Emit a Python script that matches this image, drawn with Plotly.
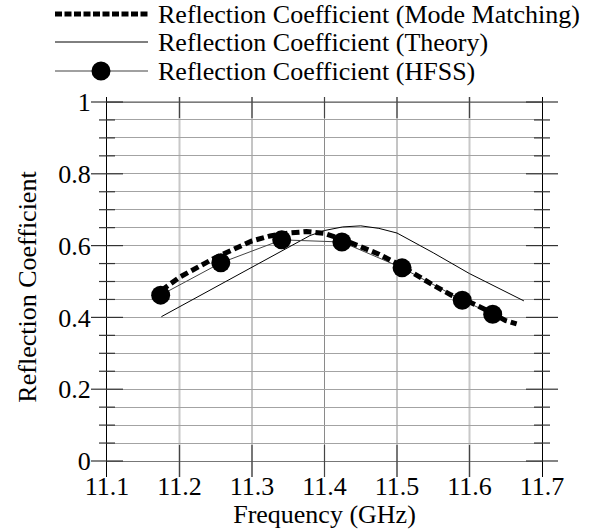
import plotly.graph_objects as go

# ---------------- data ----------------
freq_mm = [11.175, 11.2, 11.25, 11.3, 11.325, 11.35, 11.375, 11.4, 11.425, 11.45,
           11.475, 11.5, 11.525, 11.55, 11.575, 11.6, 11.625, 11.65, 11.665]
refl_mm = [0.475, 0.512, 0.567, 0.613, 0.627, 0.635, 0.639, 0.634, 0.617, 0.597,
           0.576, 0.550, 0.518, 0.490, 0.462, 0.443, 0.419, 0.391, 0.382]

freq_th = [11.175, 11.25, 11.3, 11.35, 11.38, 11.4, 11.425, 11.45, 11.475, 11.5,
           11.55, 11.6, 11.65, 11.675]
refl_th = [0.402, 0.485, 0.540, 0.595, 0.628, 0.642, 0.652, 0.655, 0.648, 0.635,
           0.580, 0.522, 0.470, 0.446]

freq_hfss = [11.174, 11.257, 11.341, 11.424, 11.507, 11.59, 11.632]
refl_hfss = [0.462, 0.552, 0.616, 0.610, 0.538, 0.448, 0.409]

x_ticks = [11.1, 11.2, 11.3, 11.4, 11.5, 11.6, 11.7]
x_ticktext = ["11.1", "11.2", "11.3", "11.4", "11.5", "11.6", "11.7"]
y_major = [0, 0.2, 0.4, 0.6, 0.8, 1.0]
y_major_text = ["0", "0.2", "0.4", "0.6", "0.8", "1"]
y_grid = [round(i * 0.05, 2) for i in range(21)]

legend_names = ["Reflection Coefficient (Mode Matching)",
                "Reflection Coefficient (Theory)",
                "Reflection Coefficient (HFSS)"]

# ---------------- layout geometry ----------------
W, H = 602, 529
PL, PR, PT, PB = 107, 542, 97, 477          # plot area in pixels
XMIN, XMAX = 11.1, 11.7
YMIN, YMAX = -16 / 359, 1 + 5 / 359
FONT = "Liberation Serif"
TXT = dict(family=FONT, size=26, color="black")


def px_x(p):
    return (p - PL) / (PR - PL)


def px_y(p):
    return (PB - p) / (PB - PT)


def dx(v):
    return (v - XMIN) / (XMAX - XMIN)


def dy(v):
    return (v - YMIN) / (YMAX - YMIN)


PXW = 1 / (PR - PL)
PXH = 1 / (PB - PT)

fig = go.Figure()

fig.add_trace(go.Scatter(x=freq_th, y=refl_th, mode="lines", name=legend_names[1],
                         line=dict(color="black", width=1), showlegend=False))
fig.add_trace(go.Scatter(x=freq_hfss, y=refl_hfss, mode="lines+markers", name=legend_names[2],
                         line=dict(color="#444444", width=1),
                         marker=dict(color="black", size=19, line=dict(width=0)),
                         showlegend=False))
fig.add_trace(go.Scatter(x=freq_mm, y=refl_mm, mode="lines", name=legend_names[0],
                         line=dict(color="black", width=5, dash="8px,4px"), showlegend=False))

shapes = []
# vertical grid lines
vgrid_colors = {11.2: ("#c8c8c8", 2), 11.3: ("#8a8a8a", 1), 11.4: ("#8a8a8a", 1),
                11.5: ("#8a8a8a", 1), 11.6: ("#c8c8c8", 2)}
for xv in x_ticks[1:-1]:
    c, w = vgrid_colors[xv]
    shapes.append(dict(type="line", xref="paper", yref="paper", x0=dx(xv), x1=dx(xv),
                       y0=0, y1=1, line=dict(color=c, width=w), layer="below"))
# top line at 1 (darker)
shapes.append(dict(type="line", xref="paper", yref="paper", x0=0, x1=1,
                   y0=dy(1.0), y1=dy(1.0), line=dict(color="#555555", width=1)))
# y ticks crossing both axes
for yv in y_grid:
    major = any(abs(yv - m) < 1e-9 for m in y_major)
    half = 16 if major else 8
    for xe in (0, 1):
        shapes.append(dict(type="line", xref="paper", yref="paper",
                           x0=xe - half * PXW, x1=xe + half * PXW,
                           y0=dy(yv), y1=dy(yv), line=dict(color="#333333", width=1.2)))
# x ticks crossing top and bottom lines
for xv in x_ticks[1:-1]:
    shapes.append(dict(type="line", xref="paper", yref="paper", x0=dx(xv), x1=dx(xv),
                       y0=dy(0) - 16 * PXH, y1=dy(0) + 16 * PXH,
                       line=dict(color="#444444", width=1.2)))
    shapes.append(dict(type="line", xref="paper", yref="paper", x0=dx(xv), x1=dx(xv),
                       y0=dy(1) - 16 * PXH, y1=1,
                       line=dict(color="#444444", width=1.2)))

# manual legend
leg_rows = [14, 42, 71]
lx0, lx1 = px_x(55), px_x(148)
shapes.append(dict(type="line", xref="paper", yref="paper", x0=lx0, x1=lx1,
                   y0=px_y(leg_rows[0]), y1=px_y(leg_rows[0]),
                   line=dict(color="black", width=5, dash="7px,2.5px")))
shapes.append(dict(type="line", xref="paper", yref="paper", x0=lx0, x1=lx1,
                   y0=px_y(leg_rows[1]), y1=px_y(leg_rows[1]),
                   line=dict(color="black", width=1)))
shapes.append(dict(type="line", xref="paper", yref="paper", x0=lx0, x1=lx1,
                   y0=px_y(leg_rows[2]), y1=px_y(leg_rows[2]),
                   line=dict(color="#a0a0a0", width=2)))
shapes.append(dict(type="circle", xref="paper", yref="paper",
                   x0=px_x(101 - 9.5), x1=px_x(101 + 9.5),
                   y0=px_y(leg_rows[2] + 9.5), y1=px_y(leg_rows[2] - 9.5),
                   fillcolor="black", line=dict(width=0)))

annotations = []
for name, r in zip(legend_names, leg_rows):
    annotations.append(dict(text=name, xref="paper", yref="paper", x=px_x(156), y=px_y(r),
                            xanchor="left", yanchor="middle", showarrow=False, font=TXT))

fig.update_layout(
    template="none",
    width=W, height=H,
    margin=dict(l=PL, r=W - PR, t=PT, b=H - PB, pad=0),
    paper_bgcolor="white", plot_bgcolor="white",
    font=TXT,
    shapes=shapes, annotations=annotations,
    showlegend=False,
)
fig.update_xaxes(range=[XMIN, XMAX], tickvals=x_ticks, ticktext=x_ticktext,
                 showgrid=False, zeroline=False, showline=False, ticks="",
                 ticklabelstandoff=-9, automargin=False,
                 tickfont=TXT,
                 title=dict(text="Frequency (GHz)", standoff=0, font=TXT))
fig.update_yaxes(range=[YMIN, YMAX], tickvals=y_grid,
                 ticktext=[(y_major_text[y_major.index(v)] if v in y_major else "") for v in y_grid],
                 showgrid=True, gridcolor="#a3a3a3", gridwidth=1,
                 zeroline=True, zerolinecolor="#777777", zerolinewidth=1,
                 showline=True, mirror=True, linecolor="black", linewidth=1,
                 ticks="", ticklabelstandoff=10, automargin=False,
                 tickfont=TXT,
                 title=dict(text="Reflection Coefficient", standoff=14, font=TXT))

fig.write_html("out.html")
